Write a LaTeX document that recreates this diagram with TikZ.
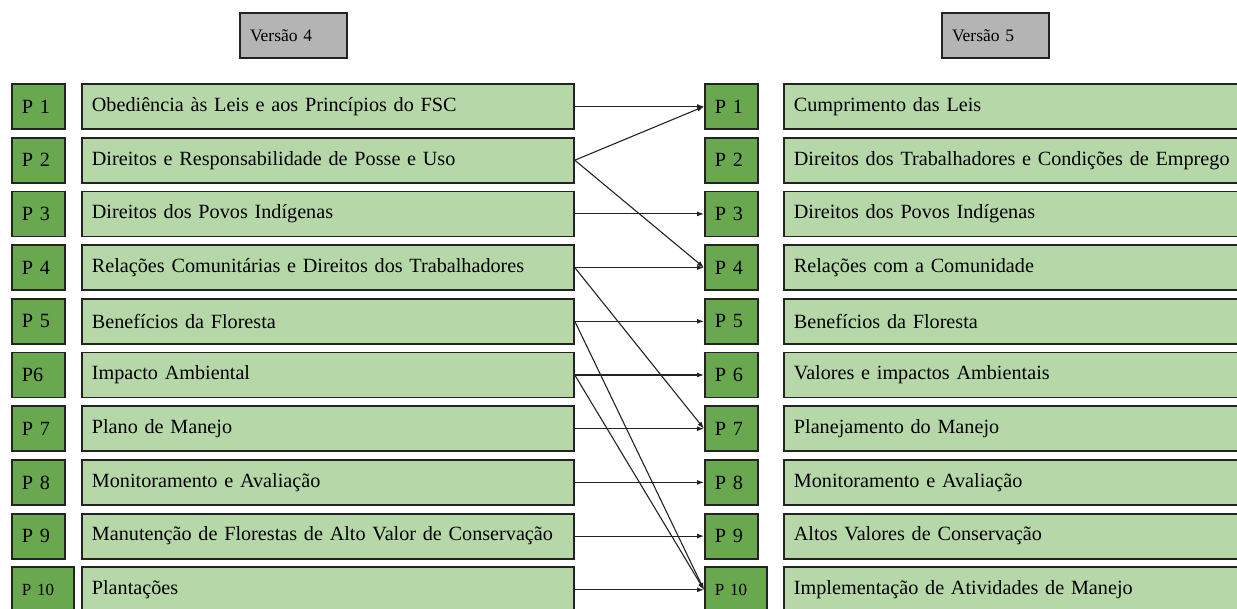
\documentclass[tikz,border=0pt]{standalone}
\usepackage{fontspec}
\setmainfont{Liberation Serif}
\usetikzlibrary{arrows.meta}
\definecolor{pgreen}{RGB}{106,168,79}
\definecolor{lgreen}{RGB}{182,215,168}
\definecolor{hgray}{RGB}{180,180,180}
\definecolor{edge}{RGB}{35,35,35}
\def\boxfont{\fontsize{20.2}{24}\selectfont}
\def\smallboxfont{\fontsize{17}{20}\selectfont}
\tikzset{
	head/.style={draw=edge, line width=2pt, fill=hgray, anchor=west, minimum height=45pt, inner xsep=10pt, inner ysep=0pt, text width=87pt, align=left, font=\fontsize{17.5}{20}\selectfont},
	pbox/.style={draw=edge, line width=1.8pt, fill=pgreen, anchor=west, minimum height=45pt, inner xsep=10pt, inner ysep=0pt, text width=33pt, align=left, font=\boxfont},
	pwide/.style={pbox, text width=42pt, font=\smallboxfont},
	ltbox/.style={draw=edge, line width=1.8pt, fill=lgreen, anchor=west, minimum height=45pt, inner xsep=10pt, inner ysep=0pt, text width=472pt, align=left, font=\boxfont},
	rtbox/.style={ltbox, text width=447pt},
	conn/.style={draw=edge, line width=1.1pt, -{Latex[length=7pt,width=5pt]}}
}

\begin{document}
\begin{tikzpicture}[x=1pt, y=-1pt]
		%%%%% START %%%%%
		\useasboundingbox (0, 0) rectangle (1237, 608);
		\clip (0, 0) rectangle (1237, 608);
		
		\node[head] (v4) at (239, 35.5) {Versão 4};
		\node[head] (v5) at (941, 35.5) {Versão 5};
		
		% Versao 4
		\node[pbox] (lp1) at (11, 106.5) {P 1};
		\node[ltbox] (lt1) at (81, 106.5) {Obediência às Leis e aos Princípios do FSC};
		\node[pbox] (lp2) at (11, 160.2) {P 2};
		\node[ltbox] (lt2) at (81, 160.2) {Direitos e Responsabilidade de Posse e Uso};
		\node[pbox] (lp3) at (11, 213.9) {P 3};
		\node[ltbox] (lt3) at (81, 213.9) {Direitos dos Povos Indígenas};
		\node[pbox] (lp4) at (11, 267.6) {P 4};
		\node[ltbox] (lt4) at (81, 267.6) {Relações Comunitárias e Direitos dos Trabalhadores};
		\node[pbox] (lp5) at (11, 321.3) {P 5};
		\node[ltbox] (lt5) at (81, 321.3) {Benefícios da Floresta};
		\node[pbox] (lp6) at (11, 375.0) {P6};
		\node[ltbox] (lt6) at (81, 375.0) {Impacto Ambiental};
		\node[pbox] (lp7) at (11, 428.7) {P 7};
		\node[ltbox] (lt7) at (81, 428.7) {Plano de Manejo};
		\node[pbox] (lp8) at (11, 482.4) {P 8};
		\node[ltbox] (lt8) at (81, 482.4) {Monitoramento e Avaliação};
		\node[pbox] (lp9) at (11, 536.1) {P 9};
		\node[ltbox] (lt9) at (81, 536.1) {Manutenção de Florestas de Alto Valor de Conservação};
		\node[pwide] (lp10) at (11, 589.8) {P 10};
		\node[ltbox] (lt10) at (81, 589.8) {Plantações};
		
		% Versao 5
		\node[pbox] (rp1) at (704, 106.5) {P 1};
		\node[rtbox] (rt1) at (783, 106.5) {Cumprimento das Leis};
		\node[pbox] (rp2) at (704, 160.2) {P 2};
		\node[rtbox] (rt2) at (783, 160.2) {Direitos dos Trabalhadores e Condições de Emprego};
		\node[pbox] (rp3) at (704, 213.9) {P 3};
		\node[rtbox] (rt3) at (783, 213.9) {Direitos dos Povos Indígenas};
		\node[pbox] (rp4) at (704, 267.6) {P 4};
		\node[rtbox] (rt4) at (783, 267.6) {Relações com a Comunidade};
		\node[pbox] (rp5) at (704, 321.3) {P 5};
		\node[rtbox] (rt5) at (783, 321.3) {Benefícios da Floresta};
		\node[pbox] (rp6) at (704, 375.0) {P 6};
		\node[rtbox] (rt6) at (783, 375.0) {Valores e impactos Ambientais};
		\node[pbox] (rp7) at (704, 428.7) {P 7};
		\node[rtbox] (rt7) at (783, 428.7) {Planejamento do Manejo};
		\node[pbox] (rp8) at (704, 482.4) {P 8};
		\node[rtbox] (rt8) at (783, 482.4) {Monitoramento e Avaliação};
		\node[pbox] (rp9) at (704, 536.1) {P 9};
		\node[rtbox] (rt9) at (783, 536.1) {Altos Valores de Conservação};
		\node[pwide] (rp10) at (704, 589.8) {P 10};
		\node[rtbox] (rt10) at (783, 589.8) {Implementação de Atividades de Manejo};
		
		% correspondencias
		\draw[conn] (lt1.east) -- (rp1.west);
		\draw[conn] (lt2.east) -- (rp1.west);
		\draw[conn] (lt2.east) -- (rp4.west);
		\draw[conn] (lt3.east) -- (rp3.west);
		\draw[conn] (lt4.east) -- (rp4.west);
		\draw[conn] (lt4.east) -- (rp7.west);
		\draw[conn] (lt5.east) -- (rp5.west);
		\draw[conn] (lt5.east) -- (rp10.west);
		\draw[conn] (lt6.east) -- (rp6.west);
		\draw[conn] (lt6.east) -- (rp10.west);
		\draw[conn] (lt7.east) -- (rp7.west);
		\draw[conn] (lt8.east) -- (rp8.west);
		\draw[conn] (lt9.east) -- (rp9.west);
		\draw[conn] (lt10.east) -- (rp10.west);
		
		%%%%% END %%%%%
	\end{tikzpicture}
\end{document}
